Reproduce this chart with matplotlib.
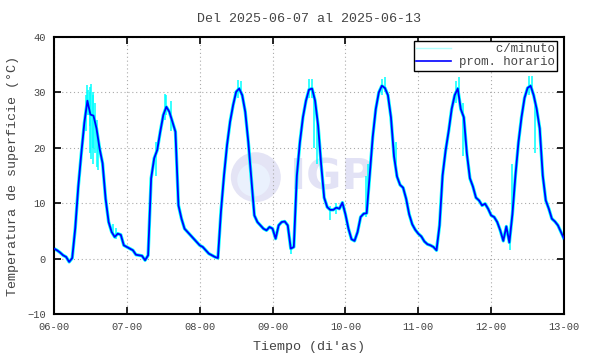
import numpy as np
import matplotlib
matplotlib.use('Agg')
import matplotlib.pyplot as plt
from matplotlib.lines import Line2D
from matplotlib.patches import Ellipse

# hourly mean surface temperature, 2025-06-06 00h .. 2025-06-13 00h
day06 = [1.8, 1.5, 1.1, 0.6, 0.3, -0.6, 0.1, 5.5, 13.0, 19.0, 24.5, 28.5,
         26.0, 25.8, 23.5, 19.9, 17.2, 10.8, 6.6, 4.8, 3.9, 4.5, 4.3, 2.4]
day07 = [2.1, 1.8, 1.5, 0.7, 0.6, 0.5, -0.3, 0.6, 14.5, 18.1, 19.6, 22.9,
         25.9, 27.4, 26.5, 24.7, 22.9, 9.6, 7.2, 5.4, 4.8, 4.2, 3.6, 3.0]
day08 = [2.4, 2.1, 1.5, 0.9, 0.6, 0.3, 0.1, 8.5, 15.0, 20.5, 24.7, 27.7,
         30.1, 30.7, 29.5, 26.5, 21.1, 14.5, 7.8, 6.6, 6.0, 5.4, 5.1, 5.7]
day09 = [5.4, 3.6, 6.0, 6.6, 6.7, 6.0, 1.8, 2.1, 15.0, 21.0, 25.5, 28.5,
         30.5, 30.7, 28.5, 24.0, 17.0, 11.0, 9.3, 8.8, 8.8, 9.2, 9.0, 10.1]
day10 = [8.0, 5.4, 3.5, 3.2, 4.8, 7.5, 8.1, 8.2, 15.0, 22.0, 27.0, 30.0,
         31.2, 30.8, 29.5, 25.5, 18.5, 14.8, 13.3, 12.8, 10.8, 8.0, 6.2, 5.2]
day11 = [4.5, 4.0, 3.1, 2.6, 2.4, 2.1, 1.5, 6.0, 15.0, 19.5, 23.0, 27.0,
         29.5, 30.7, 27.0, 25.5, 19.0, 14.5, 13.0, 11.0, 10.5, 9.6, 9.9, 9.0]
day12 = [7.8, 7.5, 6.6, 5.1, 3.2, 5.8, 2.9, 8.0, 15.0, 21.0, 25.5, 29.0,
         30.8, 31.2, 29.5, 27.0, 23.5, 15.0, 10.5, 9.0, 7.2, 6.7, 6.0, 4.8]
day13 = [3.6]
hourly = day06 + day07 + day08 + day09 + day10 + day11 + day12 + day13

# excursions of the per-minute series (hours from start, low, high)
spike_h = [10.5, 11.0, 11.3, 11.7, 12.0, 12.3, 12.7, 13.0, 13.5, 14.0, 14.5, 19.5, 20.5,
           33.5, 36.5, 37.0, 38.5,
           60.5, 61.5,
           78.0, 84.0, 85.0, 85.7, 86.8, 91.0, 93.0,
           102.8, 103.5, 108.0, 109.0, 112.5,
           132.5, 133.3, 134.6,
           150.2, 151.0, 156.5, 157.3, 158.4]
spike_lo = [23.0, 27.0, 26.0, 24.0, 19.0, 18.0, 20.0, 17.0, 19.0, 16.5, 16.0, 4.0, 3.5,
            15.0, 25.0, 26.0, 23.0,
            29.0, 29.5,
            0.8, 29.0, 29.0, 20.0, 17.0, 7.0, 8.0,
            7.5, 11.0, 29.5, 30.0, 15.0,
            28.0, 29.0, 18.5,
            1.5, 9.0, 29.5, 30.0, 19.0]
spike_hi = [29.5, 31.3, 30.5, 31.0, 30.0, 31.5, 30.0, 29.5, 28.0, 25.0, 22.0, 6.2, 5.5,
            21.0, 29.8, 29.5, 28.5,
            32.2, 32.0,
            2.5, 32.5, 32.5, 30.0, 26.0, 9.5, 10.0,
            15.0, 17.0, 32.5, 32.8, 21.0,
            32.0, 32.8, 28.0,
            4.0, 17.0, 33.0, 33.0, 29.0]

xtick_labels = ['06-00', '07-00', '08-00', '09-00', '10-00', '11-00', '12-00', '13-00']
yticks = [-10, 0, 10, 20, 30, 40]

mono = 'Liberation Mono'
gray = '#444444'

t = np.arange(len(hourly)) / 24.0
st = np.array(spike_h) / 24.0

fig = plt.figure(figsize=(5.9, 3.54), dpi=100)
ax = fig.add_axes([54/590, 1-314/354, 510/590, 277/354])

# watermark
ax.add_patch(Ellipse((2.77, 14.7), 0.686, 9.0, color='#e4e4f5', zorder=0, lw=0))
ax.add_patch(Ellipse((2.74, 14.2), 0.45, 6.0, color='#eaf1fd', zorder=0, lw=0))
ax.text(3.24, 14.7, 'IGP', fontsize=31, fontweight='bold', color='#e2e2f5',
        ha='left', va='center', zorder=0, family='DejaVu Sans')

ax.plot(t, hourly, color='cyan', lw=2.4, zorder=2, solid_joinstyle='round')
ax.vlines(st, spike_lo, spike_hi, color='cyan', lw=1.1, zorder=2)
ax.plot(t, hourly, color='#0000ff', lw=1.3, zorder=3)

ax.set_xlim(0, 7)
ax.set_ylim(-10, 40)
ax.set_xticks(range(8))
ax.set_xticklabels(xtick_labels)
ax.set_yticks(yticks)
ax.grid(True, color='#aaaaaa', linestyle=(0, (1, 2.5)), lw=0.8)
ax.set_axisbelow(True)
for s in ax.spines.values():
    s.set_linewidth(1.5)
ax.tick_params(direction='in', length=5, width=1.2, top=True, right=True,
               labelsize=7.5, labelcolor=gray, pad=6)
for lab in ax.get_xticklabels() + ax.get_yticklabels():
    lab.set_family(mono)

ax.set_title('Del 2025-06-07 al 2025-06-13', family=mono, fontsize=9.6,
             color=gray, pad=11)
ax.set_xlabel("Tiempo (di'as)", family=mono, fontsize=9.6, color=gray, labelpad=6)
ax.set_ylabel('Temperatura de superficie (°C)', family=mono, fontsize=9.6,
              color=gray, labelpad=6)

handles = [Line2D([], [], color='#b0ffff', lw=1.0),
           Line2D([], [], color='#0000ff', lw=1.2)]
leg = ax.legend(handles, ['     c/minuto', 'prom. horario'], loc='upper right',
                bbox_to_anchor=(0.986, 0.9856), borderaxespad=0,
                prop={'family': mono, 'size': 8.9}, fancybox=False,
                edgecolor='black', framealpha=1, handlelength=2.8,
                handletextpad=0.6, labelspacing=0.05, borderpad=0.2)
leg.get_frame().set_linewidth(1.0)
for txt in leg.get_texts():
    txt.set_color(gray)

fig.savefig('out.png', dpi=100)
